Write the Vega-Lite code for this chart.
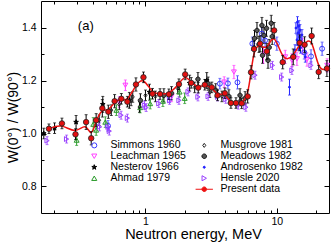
{
  "$schema": "https://vega.github.io/schema/vega-lite/v6.json",
  "width": 288,
  "height": 212,
  "autosize": "none",
  "padding": {"left": 41, "top": 1, "right": 2, "bottom": 29},
  "datasets": {
    "others": [
      {"s": "Simmons 1960", "e": 0.518, "w": 1.029, "err": 0.02},
      {"s": "Simmons 1960", "e": 1.527, "w": 1.137, "err": 0.02},
      {"s": "Simmons 1960", "e": 3.687, "w": 1.188, "err": 0.02},
      {"s": "Simmons 1960", "e": 4.246, "w": 1.189, "err": 0.02},
      {"s": "Simmons 1960", "e": 5.019, "w": 1.193, "err": 0.025},
      {"s": "Simmons 1960", "e": 6.515, "w": 1.339, "err": 0.025},
      {"s": "Simmons 1960", "e": 7.69, "w": 1.377, "err": 0.025},
      {"s": "Simmons 1960", "e": 8.15, "w": 1.351, "err": 0.025},
      {"s": "Simmons 1960", "e": 10.02, "w": 1.339, "err": 0.025},
      {"s": "Simmons 1960", "e": 16.2, "w": 1.306, "err": 0.025},
      {"s": "Simmons 1960", "e": 18.24, "w": 1.291, "err": 0.025},
      {"s": "Simmons 1960", "e": 22.15, "w": 1.32, "err": 0.025},
      {"s": "Leachman 1965", "e": 0.632, "w": 1.119, "err": 0.02},
      {"s": "Leachman 1965", "e": 0.703, "w": 1.182, "err": 0.02},
      {"s": "Leachman 1965", "e": 1.581, "w": 1.14, "err": 0.02},
      {"s": "Leachman 1965", "e": 3.977, "w": 1.194, "err": 0.02},
      {"s": "Leachman 1965", "e": 4.718, "w": 1.232, "err": 0.025},
      {"s": "Leachman 1965", "e": 7.91, "w": 1.295, "err": 0.03},
      {"s": "Leachman 1965", "e": 11.6, "w": 1.289, "err": 0.025},
      {"s": "Leachman 1965", "e": 13.05, "w": 1.276, "err": 0.025},
      {"s": "Leachman 1965", "e": 14.25, "w": 1.282, "err": 0.025},
      {"s": "Leachman 1965", "e": 15.73, "w": 1.329, "err": 0.03},
      {"s": "Leachman 1965", "e": 17.0, "w": 1.279, "err": 0.025},
      {"s": "Leachman 1965", "e": 24.2, "w": 1.257, "err": 0.025},
      {"s": "Nesterov 1966", "e": 0.168, "w": 1.0, "err": 0.02},
      {"s": "Nesterov 1966", "e": 0.203, "w": 1.02, "err": 0.02},
      {"s": "Nesterov 1966", "e": 0.296, "w": 1.043, "err": 0.025},
      {"s": "Nesterov 1966", "e": 0.473, "w": 1.11, "err": 0.03},
      {"s": "Nesterov 1966", "e": 0.754, "w": 1.125, "err": 0.03},
      {"s": "Nesterov 1966", "e": 1.073, "w": 1.156, "err": 0.03},
      {"s": "Nesterov 1966", "e": 2.17, "w": 1.19, "err": 0.03},
      {"s": "Nesterov 1966", "e": 2.93, "w": 1.2, "err": 0.03},
      {"s": "Ahmad 1979", "e": 0.299, "w": 0.975, "err": 0.02},
      {"s": "Ahmad 1979", "e": 0.4, "w": 1.035, "err": 0.025},
      {"s": "Ahmad 1979", "e": 0.421, "w": 1.013, "err": 0.02},
      {"s": "Ahmad 1979", "e": 0.494, "w": 1.043, "err": 0.02},
      {"s": "Ahmad 1979", "e": 0.6, "w": 1.088, "err": 0.02},
      {"s": "Ahmad 1979", "e": 0.911, "w": 1.098, "err": 0.02},
      {"s": "Ahmad 1979", "e": 1.086, "w": 1.113, "err": 0.02},
      {"s": "Ahmad 1979", "e": 1.357, "w": 1.122, "err": 0.02},
      {"s": "Ahmad 1979", "e": 1.82, "w": 1.157, "err": 0.02},
      {"s": "Ahmad 1979", "e": 1.99, "w": 1.133, "err": 0.02},
      {"s": "Musgrove 1981", "e": 0.444, "w": 1.05, "err": 0.02},
      {"s": "Musgrove 1981", "e": 0.549, "w": 1.088, "err": 0.02},
      {"s": "Musgrove 1981", "e": 0.632, "w": 1.11, "err": 0.02},
      {"s": "Musgrove 1981", "e": 0.777, "w": 1.125, "err": 0.02},
      {"s": "Musgrove 1981", "e": 0.8, "w": 1.138, "err": 0.02},
      {"s": "Musgrove 1981", "e": 0.9, "w": 1.1, "err": 0.02},
      {"s": "Musgrove 1981", "e": 1.0, "w": 1.144, "err": 0.02},
      {"s": "Musgrove 1981", "e": 1.19, "w": 1.14, "err": 0.02},
      {"s": "Musgrove 1981", "e": 1.76, "w": 1.17, "err": 0.02},
      {"s": "Musgrove 1981", "e": 2.37, "w": 1.174, "err": 0.02},
      {"s": "Musgrove 1981", "e": 3.09, "w": 1.156, "err": 0.02},
      {"s": "Musgrove 1981", "e": 3.82, "w": 1.14, "err": 0.02},
      {"s": "Musgrove 1981", "e": 5.25, "w": 1.125, "err": 0.02},
      {"s": "Meadows 1982", "e": 0.915, "w": 1.125, "err": 0.025},
      {"s": "Meadows 1982", "e": 1.381, "w": 1.144, "err": 0.025},
      {"s": "Meadows 1982", "e": 1.58, "w": 1.152, "err": 0.025},
      {"s": "Meadows 1982", "e": 2.51, "w": 1.205, "err": 0.025},
      {"s": "Meadows 1982", "e": 3.0, "w": 1.188, "err": 0.025},
      {"s": "Meadows 1982", "e": 3.43, "w": 1.163, "err": 0.025},
      {"s": "Meadows 1982", "e": 4.32, "w": 1.14, "err": 0.025},
      {"s": "Meadows 1982", "e": 5.25, "w": 1.144, "err": 0.025},
      {"s": "Meadows 1982", "e": 5.74, "w": 1.133, "err": 0.025},
      {"s": "Meadows 1982", "e": 6.77, "w": 1.359, "err": 0.03},
      {"s": "Meadows 1982", "e": 7.07, "w": 1.389, "err": 0.03},
      {"s": "Meadows 1982", "e": 7.32, "w": 1.336, "err": 0.03},
      {"s": "Meadows 1982", "e": 7.71, "w": 1.408, "err": 0.03},
      {"s": "Meadows 1982", "e": 7.99, "w": 1.37, "err": 0.03},
      {"s": "Meadows 1982", "e": 8.36, "w": 1.397, "err": 0.03},
      {"s": "Meadows 1982", "e": 8.76, "w": 1.325, "err": 0.03},
      {"s": "Meadows 1982", "e": 9.07, "w": 1.416, "err": 0.03},
      {"s": "Meadows 1982", "e": 9.23, "w": 1.366, "err": 0.03},
      {"s": "Meadows 1982", "e": 7.79, "w": 1.295, "err": 0.03},
      {"s": "Meadows 1982", "e": 8.58, "w": 1.276, "err": 0.03},
      {"s": "Androsenko 1982", "e": 12.5, "w": 1.175, "err": 0.03},
      {"s": "Androsenko 1982", "e": 13.76, "w": 1.315, "err": 0.02},
      {"s": "Androsenko 1982", "e": 14.0, "w": 1.398, "err": 0.02},
      {"s": "Androsenko 1982", "e": 14.25, "w": 1.353, "err": 0.02},
      {"s": "Androsenko 1982", "e": 14.38, "w": 1.421, "err": 0.02},
      {"s": "Androsenko 1982", "e": 14.5, "w": 1.379, "err": 0.02},
      {"s": "Androsenko 1982", "e": 14.63, "w": 1.334, "err": 0.02},
      {"s": "Androsenko 1982", "e": 14.76, "w": 1.406, "err": 0.02},
      {"s": "Androsenko 1982", "e": 14.89, "w": 1.364, "err": 0.02},
      {"s": "Androsenko 1982", "e": 15.02, "w": 1.391, "err": 0.02},
      {"s": "Androsenko 1982", "e": 15.16, "w": 1.323, "err": 0.02},
      {"s": "Androsenko 1982", "e": 15.29, "w": 1.345, "err": 0.02},
      {"s": "Androsenko 1982", "e": 15.56, "w": 1.372, "err": 0.02},
      {"s": "Androsenko 1982", "e": 16.5, "w": 1.289, "err": 0.02},
      {"s": "Hensle 2020", "e": 0.178, "w": 0.973, "err": 0.015},
      {"s": "Hensle 2020", "e": 0.2506, "w": 0.979, "err": 0.015},
      {"s": "Hensle 2020", "e": 0.447, "w": 1.025, "err": 0.015},
      {"s": "Hensle 2020", "e": 0.518, "w": 1.025, "err": 0.015},
      {"s": "Hensle 2020", "e": 0.53, "w": 1.009, "err": 0.015},
      {"s": "Hensle 2020", "e": 0.652, "w": 1.069, "err": 0.015},
      {"s": "Hensle 2020", "e": 0.728, "w": 1.058, "err": 0.015},
      {"s": "Hensle 2020", "e": 0.982, "w": 1.107, "err": 0.015},
      {"s": "Hensle 2020", "e": 1.012, "w": 1.098, "err": 0.015},
      {"s": "Hensle 2020", "e": 1.264, "w": 1.113, "err": 0.015},
      {"s": "Hensle 2020", "e": 1.526, "w": 1.125, "err": 0.015},
      {"s": "Hensle 2020", "e": 1.8, "w": 1.125, "err": 0.015},
      {"s": "Hensle 2020", "e": 2.11, "w": 1.157, "err": 0.015},
      {"s": "Hensle 2020", "e": 2.51, "w": 1.138, "err": 0.015},
      {"s": "Hensle 2020", "e": 3.0, "w": 1.14, "err": 0.015},
      {"s": "Hensle 2020", "e": 3.54, "w": 1.138, "err": 0.015},
      {"s": "Hensle 2020", "e": 4.09, "w": 1.129, "err": 0.015},
      {"s": "Hensle 2020", "e": 5.09, "w": 1.107, "err": 0.015},
      {"s": "Hensle 2020", "e": 5.82, "w": 1.099, "err": 0.015},
      {"s": "Hensle 2020", "e": 6.83, "w": 1.22, "err": 0.015},
      {"s": "Hensle 2020", "e": 9.27, "w": 1.257, "err": 0.015},
      {"s": "Hensle 2020", "e": 10.9, "w": 1.213, "err": 0.015},
      {"s": "Hensle 2020", "e": 13.05, "w": 1.238, "err": 0.015},
      {"s": "Hensle 2020", "e": 18.24, "w": 1.257, "err": 0.015}
    ],
    "present": [
      {"s": "Present data", "e": 0.184, "w": 1.018, "err": 0.018},
      {"s": "Present data", "e": 0.231, "w": 1.038, "err": 0.02},
      {"s": "Present data", "e": 0.293, "w": 0.997, "err": 0.02},
      {"s": "Present data", "e": 0.353, "w": 1.043, "err": 0.028},
      {"s": "Present data", "e": 0.386, "w": 0.982, "err": 0.025},
      {"s": "Present data", "e": 0.421, "w": 1.05, "err": 0.025},
      {"s": "Present data", "e": 0.469, "w": 1.095, "err": 0.033},
      {"s": "Present data", "e": 0.521, "w": 1.082, "err": 0.025},
      {"s": "Present data", "e": 0.582, "w": 1.122, "err": 0.025},
      {"s": "Present data", "e": 0.655, "w": 1.131, "err": 0.02},
      {"s": "Present data", "e": 0.728, "w": 1.12, "err": 0.02},
      {"s": "Present data", "e": 0.846, "w": 1.185, "err": 0.025},
      {"s": "Present data", "e": 0.965, "w": 1.212, "err": 0.02},
      {"s": "Present data", "e": 1.131, "w": 1.15, "err": 0.02},
      {"s": "Present data", "e": 1.291, "w": 1.149, "err": 0.02},
      {"s": "Present data", "e": 1.508, "w": 1.148, "err": 0.02},
      {"s": "Present data", "e": 1.799, "w": 1.186, "err": 0.02},
      {"s": "Present data", "e": 2.006, "w": 1.223, "err": 0.02},
      {"s": "Present data", "e": 2.23, "w": 1.191, "err": 0.02},
      {"s": "Present data", "e": 2.523, "w": 1.173, "err": 0.02},
      {"s": "Present data", "e": 2.83, "w": 1.184, "err": 0.02},
      {"s": "Present data", "e": 3.202, "w": 1.174, "err": 0.02},
      {"s": "Present data", "e": 3.54, "w": 1.144, "err": 0.02},
      {"s": "Present data", "e": 4.026, "w": 1.152, "err": 0.02},
      {"s": "Present data", "e": 4.476, "w": 1.115, "err": 0.02},
      {"s": "Present data", "e": 4.889, "w": 1.115, "err": 0.02},
      {"s": "Present data", "e": 5.406, "w": 1.114, "err": 0.02},
      {"s": "Present data", "e": 6.007, "w": 1.14, "err": 0.025},
      {"s": "Present data", "e": 6.368, "w": 1.231, "err": 0.025},
      {"s": "Present data", "e": 6.714, "w": 1.319, "err": 0.03},
      {"s": "Present data", "e": 7.464, "w": 1.339, "err": 0.03},
      {"s": "Present data", "e": 8.4, "w": 1.31, "err": 0.03},
      {"s": "Present data", "e": 9.552, "w": 1.389, "err": 0.03},
      {"s": "Present data", "e": 11.1, "w": 1.269, "err": 0.025},
      {"s": "Present data", "e": 13.35, "w": 1.289, "err": 0.03},
      {"s": "Present data", "e": 14.97, "w": 1.342, "err": 0.03},
      {"s": "Present data", "e": 16.3, "w": 1.335, "err": 0.03},
      {"s": "Present data", "e": 18.44, "w": 1.368, "err": 0.03},
      {"s": "Present data", "e": 20.86, "w": 1.232, "err": 0.025},
      {"s": "Present data", "e": 24.1, "w": 1.245, "err": 0.03}
    ]
  },
  "resolve": {"axis": {"x": "independent", "y": "independent"}},
  "layer": [
    {
      "data": {"name": "others"},
      "mark": {"type": "errorbar", "ticks": {"size": 3}},
      "encoding": {
        "x": {"field": "e", "type": "quantitative", "scale": {"type": "log", "domain": [0.16, 25], "nice": false}, "axis": null},
        "y": {"field": "w", "type": "quantitative", "scale": {"domain": [0.7, 1.5], "nice": false, "zero": false}, "axis": null},
        "yError": {"field": "err"},
        "color": {"field": "s", "type": "nominal", "legend": null,
          "scale": {"domain": ["Simmons 1960", "Leachman 1965", "Nesterov 1966", "Ahmad 1979", "Musgrove 1981", "Meadows 1982", "Androsenko 1982", "Hensle 2020"],
                    "range": ["#4a4aff", "#ff44ff", "#000000", "#2a9a2a", "#000000", "#000000", "#2222ff", "#9a44ff"]}}
      }
    },
    {
      "data": {"name": "others"},
      "mark": {"type": "point", "strokeWidth": 1, "opacity": 1, "size": 24},
      "encoding": {
        "x": {"field": "e", "type": "quantitative", "scale": {"type": "log", "domain": [0.16, 25], "nice": false},
          "axis": {"orient": "bottom", "values": [0.2, 0.3, 0.4, 0.5, 0.6, 0.7, 0.8, 0.9, 1, 2, 3, 4, 5, 6, 7, 8, 9, 10, 20],
            "tickSize": {"condition": {"test": "datum.value == 1 || datum.value == 10", "value": -5}, "value": -3},
            "labelExpr": "datum.value == 1 ? '1' : datum.value == 10 ? '10' : ''",
            "labelPadding": 8.5, "labelFlush": false, "labelOverlap": false,
            "title": "Neutron energy, MeV", "titleFontSize": 14.5, "titleX": 152, "titleY": 25, "titleBaseline": "alphabetic", "titleAnchor": null}},
        "y": {"field": "w", "type": "quantitative", "scale": {"domain": [0.7, 1.5], "nice": false, "zero": false},
          "axis": {"orient": "left", "values": [0.8, 0.9, 1.0, 1.1, 1.2, 1.3, 1.4],
            "tickSize": {"condition": {"test": "round(datum.value * 10) % 2 == 0", "value": -5}, "value": -3},
            "labelExpr": "round(datum.value * 10) % 2 == 0 ? format(datum.value, '.1f') : ''",
            "labelPadding": 10, "labelFlush": false, "labelOverlap": false,
            "title": "W(0°) / W(90°)", "titleFontSize": 14, "titleAngle": -90, "titleX": -24, "titleY": 116, "titleAlign": "center", "titleBaseline": "alphabetic"}},
        "stroke": {"field": "s", "type": "nominal", "title": null,
          "scale": {"domain": ["Simmons 1960", "Leachman 1965", "Nesterov 1966", "Ahmad 1979", " ", "Musgrove 1981", "Meadows 1982", "Androsenko 1982", "Hensle 2020", "Present data"],
                    "range": ["#3a3aff", "#ff40ff", "#000000", "#2a9a2a", "transparent", "#222222", "#111111", "#2020ff", "#9a40ff", "#ee1111"]}},
        "fill": {"field": "s", "type": "nominal", "title": null,
          "scale": {"domain": ["Simmons 1960", "Leachman 1965", "Nesterov 1966", "Ahmad 1979", " ", "Musgrove 1981", "Meadows 1982", "Androsenko 1982", "Hensle 2020", "Present data"],
                    "range": ["transparent", "transparent", "#000000", "transparent", "transparent", "transparent", "#555555", "#2020ff", "transparent", "#ee1111"]}},
        "shape": {"field": "s", "type": "nominal", "title": null,
          "scale": {"domain": ["Simmons 1960", "Leachman 1965", "Nesterov 1966", "Ahmad 1979", " ", "Musgrove 1981", "Meadows 1982", "Androsenko 1982", "Hensle 2020", "Present data"],
                    "range": ["circle", "triangle-down", "M0,-1L0.24,-0.33L0.95,-0.31L0.38,0.12L0.59,0.81L0,0.4L-0.59,0.81L-0.38,0.12L-0.95,-0.31L-0.24,-0.33Z", "triangle-up", "circle", "M0,-0.8L0.6,0L0,0.8L-0.6,0Z", "M0.9,0A0.9,0.9,0,1,1,-0.9,0A0.9,0.9,0,1,1,0.9,0Z", "M0.4,0A0.4,0.4,0,1,1,-0.4,0A0.4,0.4,0,1,1,0.4,0Z", "triangle-right", "M-3.4,0H-0.9M0.9,0H3.4M0.9,0A0.9,0.9,0,1,1,-0.9,0A0.9,0.9,0,1,1,0.9,0Z"]}}
      }
    },
    {
      "data": {"name": "present"},
      "mark": {"type": "line", "interpolate": "basis", "strokeWidth": 1.5},
      "encoding": {
        "x": {"field": "e", "type": "quantitative", "scale": {"type": "log", "domain": [0.16, 25], "nice": false}, "axis": null},
        "y": {"field": "w", "type": "quantitative", "scale": {"domain": [0.7, 1.5], "nice": false, "zero": false}, "axis": null},
        "stroke": {"field": "s", "type": "nominal", "title": null}
      }
    },
    {
      "data": {"name": "present"},
      "mark": {"type": "errorbar", "ticks": {"size": 3}, "color": "black"},
      "encoding": {
        "x": {"field": "e", "type": "quantitative", "axis": null},
        "y": {"field": "w", "type": "quantitative", "axis": null},
        "yError": {"field": "err"}
      }
    },
    {
      "data": {"name": "present"},
      "mark": {"type": "point", "filled": true, "fill": "#e31010", "stroke": "#222222", "strokeWidth": 0.8, "size": 30, "opacity": 1},
      "encoding": {
        "x": {"field": "e", "type": "quantitative",
          "axis": {"orient": "top", "values": [0.2, 0.3, 0.4, 0.5, 0.6, 0.7, 0.8, 0.9, 1, 2, 3, 4, 5, 6, 7, 8, 9, 10, 20],
            "tickSize": {"condition": {"test": "datum.value == 1 || datum.value == 10", "value": -5}, "value": -3},
            "labels": false, "title": null}},
        "y": {"field": "w", "type": "quantitative",
          "axis": {"orient": "right", "values": [0.8, 0.9, 1.0, 1.1, 1.2, 1.3, 1.4],
            "tickSize": {"condition": {"test": "round(datum.value * 10) % 2 == 0", "value": -5}, "value": -3},
            "labels": false, "title": null}}
      }
    },
    {
      "data": {"values": [{"label": "(a)"}]},
      "mark": {"type": "text", "fontSize": 13, "color": "black", "align": "center", "baseline": "middle"},
      "encoding": {
        "x": {"datum": 0.351, "type": "quantitative", "scale": {"type": "log", "domain": [0.16, 25], "nice": false}, "axis": null},
        "y": {"datum": 1.405, "type": "quantitative", "scale": {"domain": [0.7, 1.5], "nice": false, "zero": false}, "axis": null},
        "text": {"field": "label"}
      }
    }
  ],
  "config": {
    "font": "Liberation Sans",
    "view": {"stroke": null},
    "axis": {"domainColor": "black", "tickColor": "black", "labelColor": "black", "titleColor": "black", "grid": false, "titleFontWeight": "normal", "labelFontSize": 10.5, "labelFont": "Liberation Sans", "titleFont": "Liberation Sans"},
    "legend": {"orient": "none", "legendX": 48, "legendY": 139, "columns": 2, "columnPadding": 7, "rowPadding": 0, "labelFontSize": 10.5, "labelColor": "black", "labelFont": "Liberation Sans", "labelOffset": 11, "padding": 0, "symbolStrokeWidth": 1, "symbolSize": 26, "labelLimit": 200, "titleLimit": 0}
  }
}
